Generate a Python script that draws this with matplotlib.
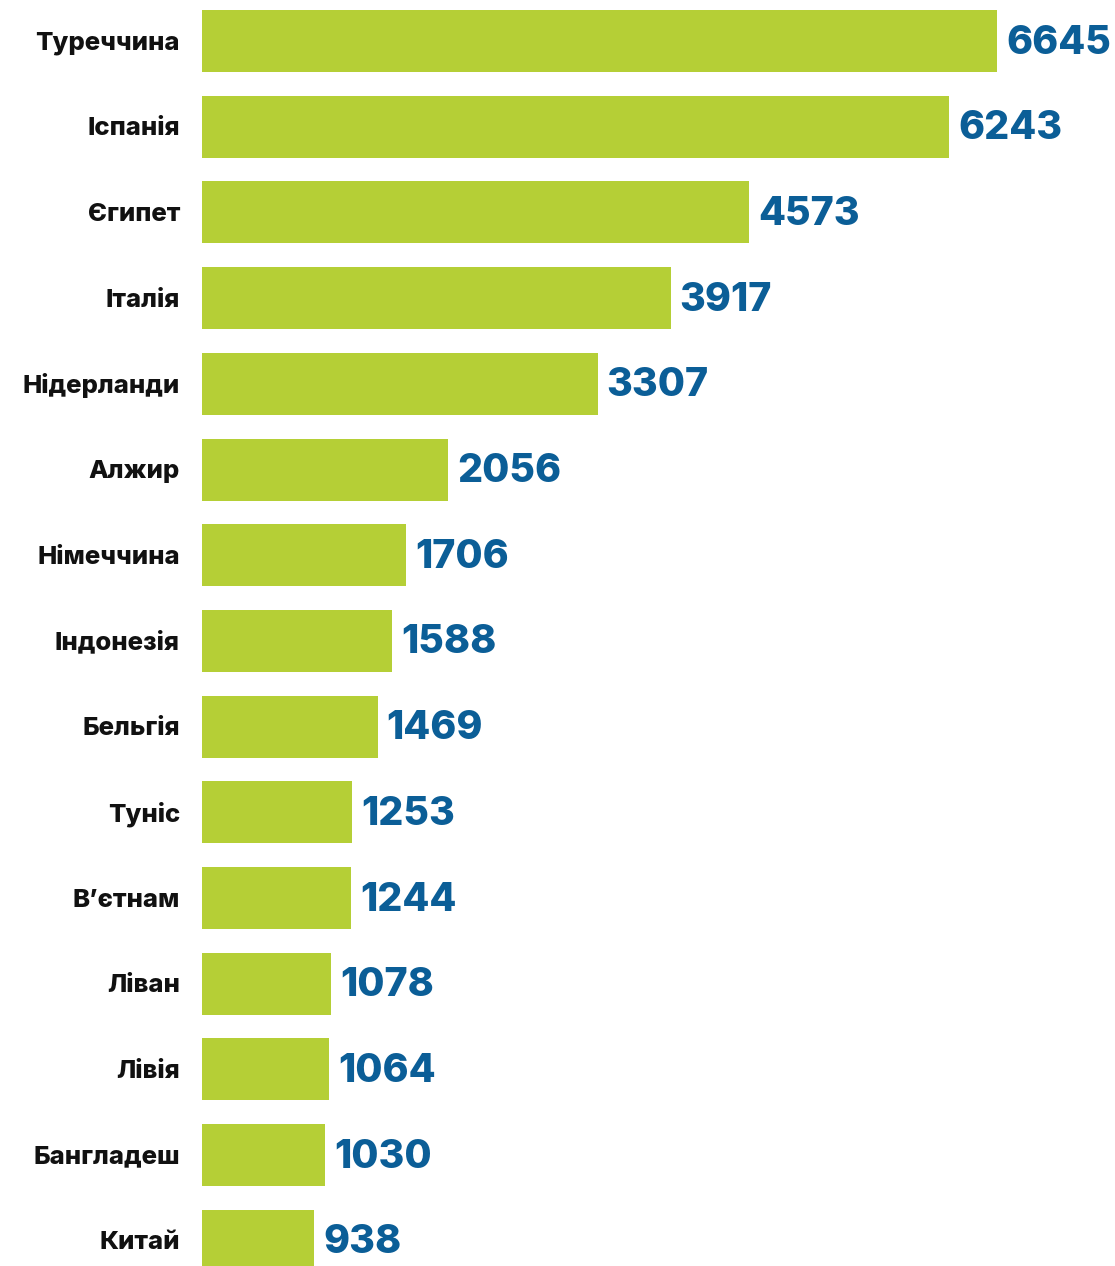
import matplotlib.pyplot as plt

countries = ["Туреччина", "Іспанія", "Єгипет", "Італія", "Нідерланди", "Алжир",
             "Німеччина", "Індонезія", "Бельгія", "Туніс", "В’єтнам", "Ліван",
             "Лівія", "Бангладеш", "Китай"]
values = [6645, 6243, 4573, 3917, 3307, 2056, 1706, 1588, 1469, 1253, 1244,
          1078, 1064, 1030, 938]

bar_color = "#b5cf36"
num_color = "#0b5e97"

W, H = 1115, 1266
fig = plt.figure(figsize=(W / 100, H / 100), dpi=100)
left = 202
ax = fig.add_axes([left / W, 0, 1 - left / W, 1])

px_per_unit = (997 - left) / 6645
step = 85.7
ax.set_xlim(0, (W - left) / px_per_unit)
ax.set_ylim((H - 41) / step, -41 / step)

ypos = list(range(len(countries)))
ax.barh(ypos, values, height=62 / step, color=bar_color)

for y, name, v in zip(ypos, countries, values):
    ax.text(-22 / px_per_unit, y + 2 / step, name, ha="right", va="center",
            fontsize=18.5, fontweight=800, family=["Inter", "DejaVu Sans"],
            color="#111111", clip_on=False)
    ax.text(v + 9 / px_per_unit, y + 2 / step, str(v), ha="left", va="center",
            fontsize=28.3, fontweight=800, family=["Inter", "DejaVu Sans"],
            color=num_color)

ax.axis("off")
fig.savefig("out.png", dpi=100)
